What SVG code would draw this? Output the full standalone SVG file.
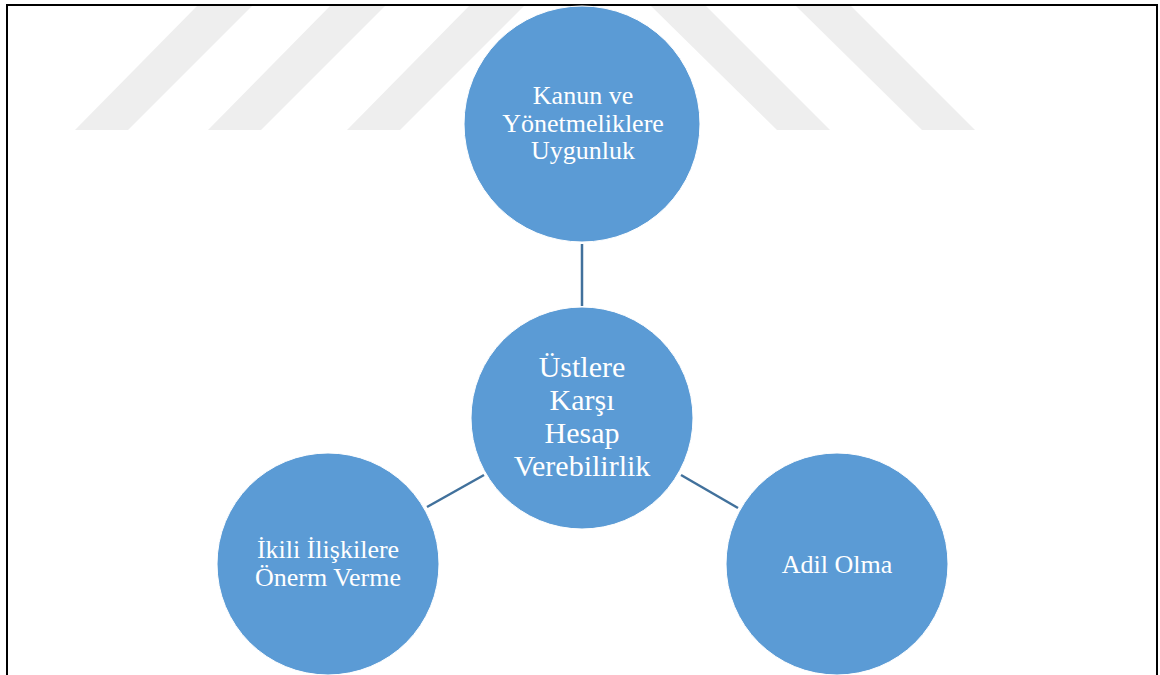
<svg xmlns="http://www.w3.org/2000/svg" width="1160" height="675" viewBox="0 0 1160 675">
<style>
.wm{fill:#eeeeee}
.node{fill:#5b9bd5;stroke:#ffffff;stroke-width:1}
.lbl{font-family:"Liberation Serif","Times New Roman",serif;fill:#ffffff;text-anchor:middle}
.s26{font-size:26px}
.s30{font-size:30px}
.conn{stroke:#41719c;stroke-width:2.5;fill:none}
</style>
<rect x="0" y="0" width="1160" height="675" fill="#ffffff"/>
<g id="watermark">
<polygon class="wm" points="198,5 253,5 128,130 75,130"/>
<polygon class="wm" points="331,5 386,5 261,130 208,130"/>
<polygon class="wm" points="470,5 525,5 400,130 347,130"/>
<polygon class="wm" points="650,5 705,5 830,130 777,130"/>
<polygon class="wm" points="795,5 850,5 975,130 922,130"/>
</g>
<rect x="7" y="5" width="1150" height="720" fill="none" stroke="#000000" stroke-width="2"/>
<g id="connectors">
<line class="conn" x1="582" y1="244" x2="582" y2="306"/>
<line class="conn" x1="427" y1="507" x2="484" y2="475"/>
<line class="conn" x1="681" y1="475" x2="738" y2="508"/>
</g>
<g id="node-top">
<circle class="node" cx="582" cy="124" r="118"/>
<text class="lbl s26" x="583" y="104">Kanun ve</text>
<text class="lbl s26" x="583" y="132">Yönetmeliklere</text>
<text class="lbl s26" x="583" y="159">Uygunluk</text>
</g>
<g id="node-center">
<circle class="node" cx="582" cy="418" r="111"/>
<text class="lbl s30" x="582" y="377">Üstlere</text>
<text class="lbl s30" x="582" y="410">Karşı</text>
<text class="lbl s30" x="582" y="443">Hesap</text>
<text class="lbl s30" x="582" y="476">Verebilirlik</text>
</g>
<g id="node-left">
<circle class="node" cx="328" cy="564" r="111"/>
<text class="lbl s26" x="328" y="558">İkili İlişkilere</text>
<text class="lbl s26" x="328" y="586">Önerm Verme</text>
</g>
<g id="node-right">
<circle class="node" cx="837" cy="564" r="111"/>
<text class="lbl s26" x="837" y="573">Adil Olma</text>
</g>
</svg>
